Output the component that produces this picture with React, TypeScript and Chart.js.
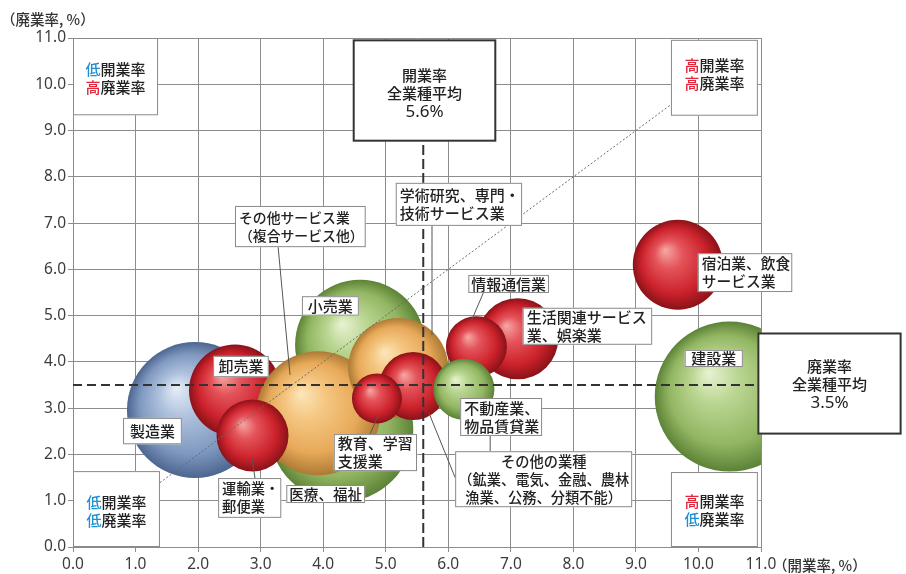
import React, { useEffect, useRef } from 'react';
import { Chart, registerables } from 'chart.js';

Chart.register(...registerables);

// ---------------- data ----------------
// drawn back-to-front
const industries = [
  '建設業',
  '宿泊業、飲食サービス業',
  '製造業',
  '医療、福祉',
  '小売業',
  '卸売業',
  'その他サービス業（複合サービス他）',
  '運輸業・郵便業',
  '学術研究、専門・技術サービス業',
  '生活関連サービス業、娯楽業',
  '情報通信業',
  'その他の業種',
  '教育、学習支援業',
  '不動産業、物品賃貸業',
];
const openRates = [10.5, 9.67, 1.95, 4.29, 4.59, 2.59, 3.92, 2.87, 5.2, 7.11, 6.45, 5.44, 4.86, 6.25];
const closeRates = [3.25, 6.1, 2.96, 2.53, 4.37, 3.38, 2.89, 2.41, 3.87, 4.5, 4.33, 3.48, 3.21, 3.41];
const bubbleSizes = [7.5, 4.5, 6.8, 7.2, 6.5, 4.6, 6.2, 3.6, 5.0, 4.05, 3.05, 3.4, 2.5, 3.05];
const colorGroups = ['green', 'red', 'blue', 'green', 'green', 'red', 'orange', 'red', 'orange', 'red', 'red', 'red', 'red', 'green'];

const axisMin = 0;
const axisMax = 11;
const axisStep = 1;
const openAverage = 5.6;
const closeAverage = 3.5;
const xAxisTitle = '（開業率, %）';
const yAxisTitle = '（廃業率, %）';

// ---------------- styles ----------------
const NUM_FONT = "'Liberation Sans Narrow', 'Noto Sans', sans-serif";
const JP_FONT = "'Noto Sans CJK JP', 'Noto Sans', sans-serif";
const BLUE = '#1f8fd4';
const RED = '#e3263b';
const GRID = '#8c8c8c';
const RADIUS_UNIT = 10;

const gradientStops: Record<string, [number, string][]> = {
  red: [[0, '#f5a3a0'], [0.3, '#e4545a'], [0.72, '#cc222c'], [1, '#8a1218']],
  green: [[0, '#e6f1cf'], [0.3, '#bad692'], [0.72, '#92b662'], [1, '#5c8236']],
  orange: [[0, '#fce4b8'], [0.3, '#f5c782'], [0.72, '#e7a959'], [1, '#ad7a34']],
  blue: [[0, '#e3ebf5'], [0.3, '#b0c3de'], [0.72, '#8099c0'], [1, '#4d6690']],
};
const flatColor: Record<string, string> = { red: '#d9343c', green: '#a8c878', orange: '#f0b866', blue: '#8ea8cc' };

type Seg = { t: string; c?: string };
type Note = {
  lines: (string | Seg[])[];
  box: [number, number, number, number]; // x0, yTop, x1, yBottom (data units)
  align?: 'left' | 'center';
  strong?: boolean;
  dy?: number;
  pointer?: [number, number, number, number];
};

const cornerNotes: Note[] = [
  { lines: [[{ t: '低', c: BLUE }, { t: '開業率' }], [{ t: '高', c: RED }, { t: '廃業率' }]], box: [0, 11, 1.36, 9.33], dy: 2 },
  { lines: [[{ t: '高', c: RED }, { t: '開業率' }], [{ t: '高', c: RED }, { t: '廃業率' }]], box: [9.56, 10.96, 10.95, 9.32], dy: -3 },
  { lines: [[{ t: '低', c: BLUE }, { t: '開業率' }], [{ t: '低', c: BLUE }, { t: '廃業率' }]], box: [0, 1.64, 1.39, 0], dy: 2 },
  { lines: [[{ t: '高', c: RED }, { t: '開業率' }], [{ t: '低', c: BLUE }, { t: '廃業率' }]], box: [9.56, 1.62, 10.95, 0], dy: 1 },
];

const averageNotes: Note[] = [
  { lines: ['開業率', '全業種平均', `${openAverage.toFixed(1)}%`], box: [4.48, 10.96, 6.76, 8.77], strong: true, dy: 3 },
  { lines: ['廃業率', '全業種平均', `${closeAverage.toFixed(1)}%`], box: [10.95, 4.625, 13.24, 2.44], strong: true, dy: 1 },
];

const labelNotes: Note[] = [
  { lines: ['学術研究、専門・', '技術サービス業'], box: [5.16, 7.87, 7.18, 6.94], align: 'left', pointer: [5.74, 6.94, 5.74, 4.58] },
  { lines: ['その他サービス業', '（複合サービス他）'], box: [2.59, 7.37, 4.68, 6.48], align: 'left', pointer: [3.28, 6.48, 3.47, 3.72] },
  { lines: ['小売業'], box: [3.66, 5.42, 4.57, 5.0] },
  { lines: ['卸売業'], box: [2.24, 4.13, 3.13, 3.67] },
  { lines: ['製造業'], box: [0.8, 2.79, 1.74, 2.22] },
  { lines: ['運輸業・', '郵便業'], box: [2.32, 1.49, 3.33, 0.63], align: 'left', pointer: [2.86, 1.92, 2.91, 1.49] },
  { lines: ['医療、福祉'], box: [3.41, 1.34, 4.67, 0.95] },
  { lines: ['教育、学習', '支援業'], box: [4.17, 2.44, 5.5, 1.64], align: 'left', pointer: [4.88, 2.85, 4.75, 2.44] },
  { lines: ['情報通信業'], box: [6.32, 5.88, 7.61, 5.49], pointer: [6.56, 5.49, 6.36, 4.86] },
  { lines: ['生活関連サービス', '業、娯楽業'], box: [7.19, 5.17, 9.26, 4.37], align: 'left' },
  { lines: ['宿泊業、飲食', 'サービス業'], box: [9.99, 6.35, 11.5, 5.51], align: 'left' },
  { lines: ['建設業'], box: [9.78, 4.26, 10.71, 3.89] },
  { lines: ['不動産業、', '物品賃貸業'], box: [6.19, 3.22, 7.5, 2.4], align: 'left', pointer: [6.67, 2.4, 6.67, 2.07] },
  { lines: ['その他の業種', '（鉱業、電気、金融、農林', '漁業、公務、分類不能）'], box: [6.11, 2.07, 8.94, 0.86], pointer: [5.69, 2.9, 6.11, 1.5] },
];

const diagonalRange = [1.39, 9.56];

// ---------------- helpers ----------------
function segsOf(line: string | Seg[]): Seg[] {
  return typeof line === 'string' ? [{ t: line }] : line;
}
function fontFor(t: string, size: number) {
  return /^[\d.%]+$/.test(t) ? `${size + 2}px ${NUM_FONT}` : `500 ${size}px ${JP_FONT}`;
}
function lineWidth(ctx: CanvasRenderingContext2D, segs: Seg[], size: number) {
  let w = 0;
  for (const s of segs) {
    ctx.font = fontFor(s.t, size);
    w += ctx.measureText(s.t).width;
  }
  return w;
}

function drawNote(ctx: CanvasRenderingContext2D, note: Note, X: (v: number) => number, Y: (v: number) => number) {
  const x0 = X(note.box[0]);
  const y0 = Y(note.box[1]);
  const x1 = X(note.box[2]);
  const y1 = Y(note.box[3]);
  const w = x1 - x0;
  const h = y1 - y0;
  ctx.save();
  ctx.fillStyle = '#ffffff';
  ctx.fillRect(x0, y0, w, h);
  ctx.strokeStyle = note.strong ? '#333333' : '#8a8a8a';
  ctx.lineWidth = note.strong ? 2 : 1;
  ctx.strokeRect(x0 + 0.5, y0 + 0.5, w - 1, h - 1);

  let size = 15;
  const lines = note.lines.map(segsOf);
  let maxW = 0;
  for (const l of lines) maxW = Math.max(maxW, lineWidth(ctx, l, size));
  if (maxW > w - 6) size = size * (w - 6) / maxW;
  const lh = note.strong ? 18.5 : 18;
  const total = lh * lines.length;
  let cy = y0 + h / 2 - total / 2 + lh / 2 + (note.dy || 0);
  ctx.textBaseline = 'middle';
  for (const l of lines) {
    const lw = lineWidth(ctx, l, size);
    let x = note.align === 'left' ? x0 + 4 : x0 + w / 2 - lw / 2;
    for (const s of l) {
      ctx.font = fontFor(s.t, size);
      ctx.fillStyle = s.c || '#222222';
      ctx.textAlign = 'left';
      ctx.fillText(s.t, x, cy);
      x += ctx.measureText(s.t).width;
    }
    cy += lh;
  }
  ctx.restore();
}

const overlayPlugin = {
  id: 'overlay',
  afterDatasetsDraw(chart: any) {
    const ctx: CanvasRenderingContext2D = chart.ctx;
    const xs = chart.scales.x;
    const ys = chart.scales.y;
    const X = (v: number) => xs.getPixelForValue(v);
    const Y = (v: number) => ys.getPixelForValue(v);
    ctx.save();
    // diagonal y = x
    ctx.strokeStyle = '#6a6a6a';
    ctx.lineWidth = 1;
    ctx.setLineDash([2, 2]);
    ctx.beginPath();
    ctx.moveTo(X(diagonalRange[0]), Y(diagonalRange[0]));
    ctx.lineTo(X(diagonalRange[1]), Y(diagonalRange[1]));
    ctx.stroke();
    // averages
    ctx.strokeStyle = '#333333';
    ctx.lineWidth = 2;
    ctx.setLineDash([9, 5]);
    ctx.beginPath();
    ctx.moveTo(X(axisMin), Y(closeAverage));
    ctx.lineTo(X(averageNotes[1].box[0]), Y(closeAverage));
    ctx.stroke();
    ctx.setLineDash([10, 4]);
    ctx.beginPath();
    ctx.moveTo(X(openAverage), Y(axisMin));
    ctx.lineTo(X(openAverage), Y(averageNotes[0].box[3]));
    ctx.stroke();
    ctx.restore();
  },
  afterDraw(chart: any) {
    const ctx: CanvasRenderingContext2D = chart.ctx;
    const xs = chart.scales.x;
    const ys = chart.scales.y;
    const X = (v: number) => xs.getPixelForValue(v);
    const Y = (v: number) => ys.getPixelForValue(v);
    ctx.save();
    // pointers
    ctx.strokeStyle = '#555555';
    ctx.lineWidth = 1;
    ctx.setLineDash([]);
    for (const n of labelNotes) {
      if (!n.pointer) continue;
      ctx.beginPath();
      ctx.moveTo(X(n.pointer[0]), Y(n.pointer[1]));
      ctx.lineTo(X(n.pointer[2]), Y(n.pointer[3]));
      ctx.stroke();
    }
    ctx.restore();
    for (const n of cornerNotes) drawNote(ctx, n, X, Y);
    for (const n of averageNotes) drawNote(ctx, n, X, Y);
    for (const n of labelNotes) drawNote(ctx, n, X, Y);
    // axis titles
    ctx.save();
    ctx.fillStyle = '#333333';
    ctx.font = `500 14.5px ${JP_FONT}`;
    ctx.textBaseline = 'middle';
    ctx.textAlign = 'left';
    ctx.fillText(yAxisTitle, 1, Y(axisMax) - 19);
    ctx.fillText(xAxisTitle, X(axisMax) + 12, ys.bottom + 18);
    ctx.restore();
  },
};

function bubbleFill(c: any) {
  const i = c.dataIndex;
  const group = colorGroups[i];
  const chart = c.chart;
  const xs = chart.scales && chart.scales.x;
  const ys = chart.scales && chart.scales.y;
  if (c.type !== 'data' || !xs || !ys) return flatColor[group];
  const cx = xs.getPixelForValue(openRates[i]);
  const cy = ys.getPixelForValue(closeRates[i]);
  const r = bubbleSizes[i] * RADIUS_UNIT;
  if (!isFinite(cx) || !isFinite(cy)) return flatColor[group];
  const g = chart.ctx.createRadialGradient(cx - r * 0.28, cy - r * 0.32, r * 0.02, cx, cy, r);
  for (const [o, col] of gradientStops[group]) g.addColorStop(o, col);
  return g;
}

export default function App() {
  const canvasRef = useRef<HTMLCanvasElement | null>(null);

  useEffect(() => {
    if (!canvasRef.current) return;
    const tickValues: number[] = [];
    for (let v = axisMin; v <= axisMax + 1e-9; v += axisStep) tickValues.push(v);
    const chart = new Chart(canvasRef.current, {
      type: 'bubble',
      data: {
        datasets: [
          {
            label: '業種',
            data: industries.map((_, i) => ({ x: openRates[i], y: closeRates[i], r: bubbleSizes[i] * RADIUS_UNIT })),
            backgroundColor: bubbleFill as any,
            hoverBackgroundColor: bubbleFill as any,
            borderWidth: 0,
            hoverBorderWidth: 0,
            clip: 0 as any,
          },
        ],
      },
      options: {
        animation: false,
        responsive: true,
        maintainAspectRatio: false,
        events: [],
        layout: { autoPadding: false, padding: { top: 38, right: 145, left: 0, bottom: 0 } },
        plugins: { legend: { display: false }, tooltip: { enabled: false }, title: { display: false } },
        scales: {
          x: {
            type: 'linear',
            min: axisMin,
            max: axisMax,
            afterBuildTicks: (s: any) => { s.ticks = tickValues.map((v) => ({ value: v })); },
            afterFit: (s: any) => { s.height = 27; },
            ticks: {
              callback: (v: any) => Number(v).toFixed(1),
              font: { family: NUM_FONT, size: 15.5 },
              color: '#3c3c3c',
              padding: 3,
              maxRotation: 0,
              autoSkip: false,
            },
            grid: { color: GRID, lineWidth: 1, tickLength: 5, drawTicks: true },
            border: { color: GRID, width: 1 },
          },
          y: {
            type: 'linear',
            min: axisMin,
            max: axisMax,
            afterBuildTicks: (s: any) => { s.ticks = tickValues.map((v) => ({ value: v })); },
            afterFit: (s: any) => { s.width = 73; },
            ticks: {
              callback: (v: any) => Number(v).toFixed(1),
              font: { family: NUM_FONT, size: 15.5 },
              color: '#3c3c3c',
              padding: 2,
              autoSkip: false,
            },
            grid: { color: GRID, lineWidth: 1, tickLength: 5, drawTicks: true },
            border: { color: GRID, width: 1 },
          },
        },
      } as any,
      plugins: [overlayPlugin],
    });
    return () => chart.destroy();
  }, []);

  return (
    <div style={{ position: 'fixed', left: 0, top: 0, width: 906, height: 574, background: '#ffffff' }}>
      <canvas ref={canvasRef} />
    </div>
  );
}
